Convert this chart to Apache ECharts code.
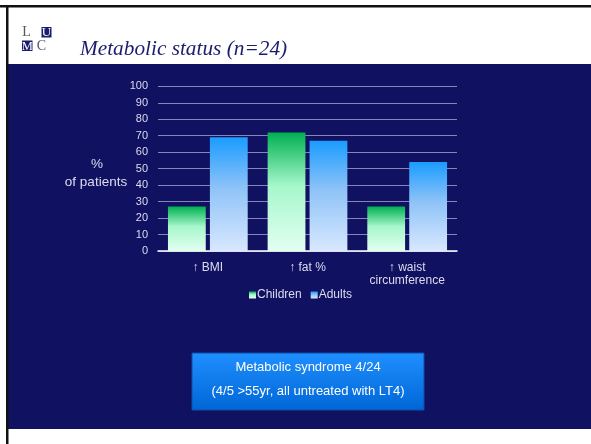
<!DOCTYPE html>
<html>
<head>
<meta charset="utf-8">
<script src="https://cdn.jsdelivr.net/npm/echarts@6/dist/echarts.min.js"></script>
<style>
  html, body { margin: 0; padding: 0; background: #ffffff; }
  #chart { width: 591px; height: 444px; }
</style>
</head>
<body>
<div id="chart"></div>
<script>
// Share of patients (%) with each metabolic finding
const categories = ['\u2191 BMI', '\u2191 fat %', '\u2191 waist\ncircumference'];
const children = [27, 72, 27];
const adults = [69, 67, 54];
const yTicks = { min: 0, max: 100, interval: 10 };

const NAVY = '#111161';
const TEXT = '#dcdcf0';

const greenFill = new echarts.graphic.LinearGradient(0, 0, 0, 1, [
  { offset: 0, color: '#00b050' },
  { offset: 0.45, color: '#a6f7cc' },
  { offset: 1, color: '#e2fff0' }
]);
const blueFill = new echarts.graphic.LinearGradient(0, 0, 0, 1, [
  { offset: 0, color: '#1a9cff' },
  { offset: 0.45, color: '#8fc3f7' },
  { offset: 1, color: '#d8e8ff' }
]);

const chart = echarts.init(document.getElementById('chart'), null, { renderer: 'canvas' });

chart.setOption({
  backgroundColor: '#ffffff',
  animation: false,
  graphic: [
    // slide frame
    { type: 'rect', z: -10, shape: { x: 8, y: 64, width: 583, height: 365 }, style: { fill: NAVY } },
    { type: 'rect', z: -9, shape: { x: 0, y: 5, width: 591, height: 2.5 }, style: { fill: '#111111' } },
    { type: 'rect', z: -9, shape: { x: 6, y: 5, width: 2.5, height: 439 }, style: { fill: '#111111' } },
    // logo
    { type: 'rect', shape: { x: 41.5, y: 27, width: 10, height: 10.5 }, style: { fill: '#1c1c6e' } },
    { type: 'rect', shape: { x: 22, y: 40.5, width: 10.5, height: 10.5 }, style: { fill: '#1c1c6e' } },
    { type: 'text', style: { text: 'L', x: 26.5, y: 32.5, fill: '#555566', font: '14px "Liberation Serif"', textAlign: 'center', textVerticalAlign: 'middle' } },
    { type: 'text', style: { text: 'U', x: 46.5, y: 32.8, fill: '#ffffff', font: '13px "Liberation Serif"', textAlign: 'center', textVerticalAlign: 'middle' } },
    { type: 'text', style: { text: 'M', x: 27.3, y: 46.3, fill: '#ffffff', font: '12.5px "Liberation Serif"', textAlign: 'center', textVerticalAlign: 'middle' } },
    { type: 'text', style: { text: 'C', x: 41.5, y: 46, fill: '#555566', font: '14px "Liberation Serif"', textAlign: 'center', textVerticalAlign: 'middle' } },
    // title
    { type: 'text', style: { text: 'Metabolic status (n=24)', x: 80, y: 49, fill: '#1c1c6e', font: 'italic 21.3px "Liberation Serif"', textAlign: 'left', textVerticalAlign: 'middle' } },
    // y-axis caption
    { type: 'text', style: { text: '%', x: 97, y: 164, fill: TEXT, font: '13.5px "Liberation Sans"', textAlign: 'center', textVerticalAlign: 'middle' } },
    { type: 'text', style: { text: 'of patients', x: 96, y: 182, fill: TEXT, font: '13.5px "Liberation Sans"', textAlign: 'center', textVerticalAlign: 'middle' } },
    // note box
    { type: 'rect', shape: { x: 192, y: 353, width: 232, height: 57 },
      style: { fill: new echarts.graphic.LinearGradient(0, 0, 0, 1, [
        { offset: 0, color: '#1f8fff' }, { offset: 1, color: '#0066d6' }
      ]), stroke: '#0a4fa8', lineWidth: 1 } },
    { type: 'text', style: { text: 'Metabolic syndrome 4/24', x: 308, y: 367, fill: '#ffffff', font: '13px "Liberation Sans"', textAlign: 'center', textVerticalAlign: 'middle' } },
    { type: 'text', style: { text: '(4/5 >55yr, all untreated with LT4)', x: 308, y: 391, fill: '#ffffff', font: '13px "Liberation Sans"', textAlign: 'center', textVerticalAlign: 'middle' } }
  ],
  grid: { left: 158, right: 134, top: 86.3, bottom: 193, containLabel: false },
  legend: {
    left: 244, top: 284,
    itemWidth: 7, itemHeight: 7, itemGap: 9,
    icon: 'rect',
    textStyle: { color: TEXT, fontSize: 12, fontFamily: 'Liberation Sans', padding: [0, 0, 0, -4] },
    data: ['Children', 'Adults']
  },
  xAxis: {
    type: 'category',
    data: categories,
    axisLine: { lineStyle: { color: '#ffffff', width: 1.5 } },
    axisTick: { show: false },
    axisLabel: { color: TEXT, fontSize: 12, fontFamily: 'Liberation Sans', margin: 10, lineHeight: 13 }
  },
  yAxis: {
    type: 'value',
    min: yTicks.min, max: yTicks.max, interval: yTicks.interval,
    axisLine: { show: false },
    axisTick: { show: false },
    axisLabel: { color: TEXT, fontSize: 11, fontFamily: 'Liberation Sans', margin: 10 },
    splitLine: { lineStyle: { color: '#8585b8', width: 1 } }
  },
  series: [
    { name: 'Children', type: 'bar', data: children, barGap: '11%', barCategoryGap: '20%',
      itemStyle: { color: greenFill } },
    { name: 'Adults', type: 'bar', data: adults, barGap: '11%', barCategoryGap: '20%',
      itemStyle: { color: blueFill } }
  ]
});
</script>
</body>
</html>
